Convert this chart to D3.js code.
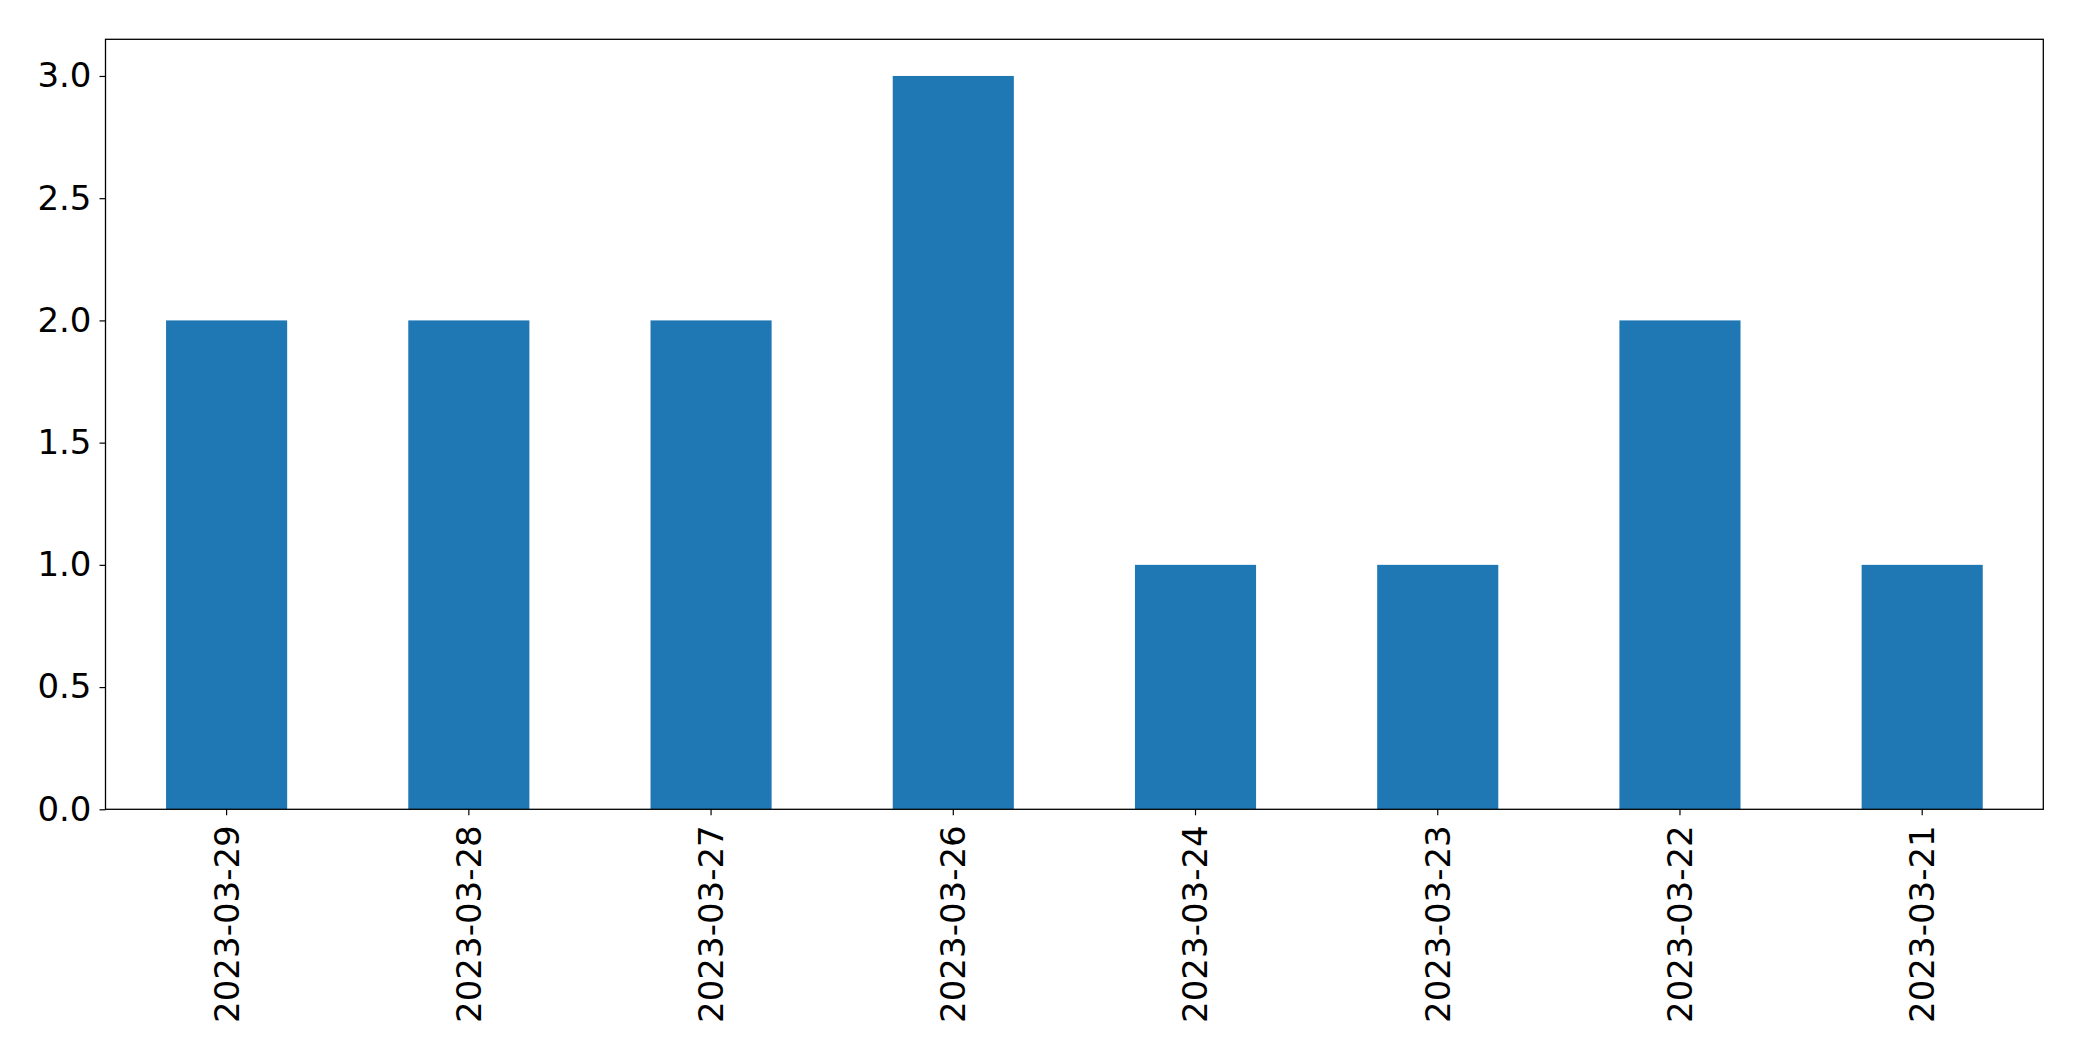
<!DOCTYPE html>
<html>
<head>
<meta charset="utf-8">
<script src="https://cdn.jsdelivr.net/npm/d3@7"></script>
<style>
html,body{margin:0;padding:0;background:#fff;}
svg text{font-family:"DejaVu Sans",sans-serif;}
</style>
</head>
<body>
<svg id="chart" width="2082" height="1061"></svg>
<script>
const categories = ["2023-03-29","2023-03-28","2023-03-27","2023-03-26","2023-03-24","2023-03-23","2023-03-22","2023-03-21"];
const values = [2, 2, 2, 3, 1, 1, 2, 1];
const yTicks = [0.0, 0.5, 1.0, 1.5, 2.0, 2.5, 3.0];

const svg = d3.select("#chart");
const mLeft = 105.5, mRight = 2043.3, mTop = 39.3, mBottom = 809.3;

const x = d3.scaleBand().domain(categories).range([mLeft, mRight]).paddingInner(0.5).paddingOuter(0.25);
const y = d3.scaleLinear().domain([0, 3.15]).range([mBottom, mTop]);

svg.append("g").selectAll("rect").data(values).join("rect")
  .attr("x", (d,i) => x(categories[i]))
  .attr("width", x.bandwidth())
  .attr("y", d => y(d))
  .attr("height", d => y(0) - y(d))
  .attr("fill", "#1f77b4");

const yAxis = svg.append("g").attr("transform", `translate(${mLeft},0)`)
  .call(d3.axisLeft(y).tickValues(yTicks).tickFormat(d3.format(".1f")).tickSize(6).tickPadding(8));
yAxis.select(".domain").remove();
yAxis.selectAll("text").attr("font-size", 34).attr("fill", "#000").attr("font-family", "DejaVu Sans");
yAxis.selectAll("line").attr("stroke", "#000").attr("stroke-width", 1.2);

const xAxis = svg.append("g").attr("transform", `translate(0,${mBottom})`)
  .call(d3.axisBottom(x).tickSize(6).tickPadding(8));
xAxis.select(".domain").remove();
xAxis.selectAll("line").attr("stroke", "#000").attr("stroke-width", 1.2);
xAxis.selectAll("text")
  .attr("font-size", 34).attr("fill", "#000").attr("font-family", "DejaVu Sans")
  .attr("transform", "rotate(-90)")
  .attr("text-anchor", "end")
  .attr("x", -16).attr("y", 0).attr("dy", "0.35em");

svg.append("rect").attr("x", mLeft).attr("y", mTop)
  .attr("width", mRight - mLeft).attr("height", mBottom - mTop)
  .attr("fill", "none").attr("stroke", "#000").attr("stroke-width", 1.3);
</script>
</body>
</html>
